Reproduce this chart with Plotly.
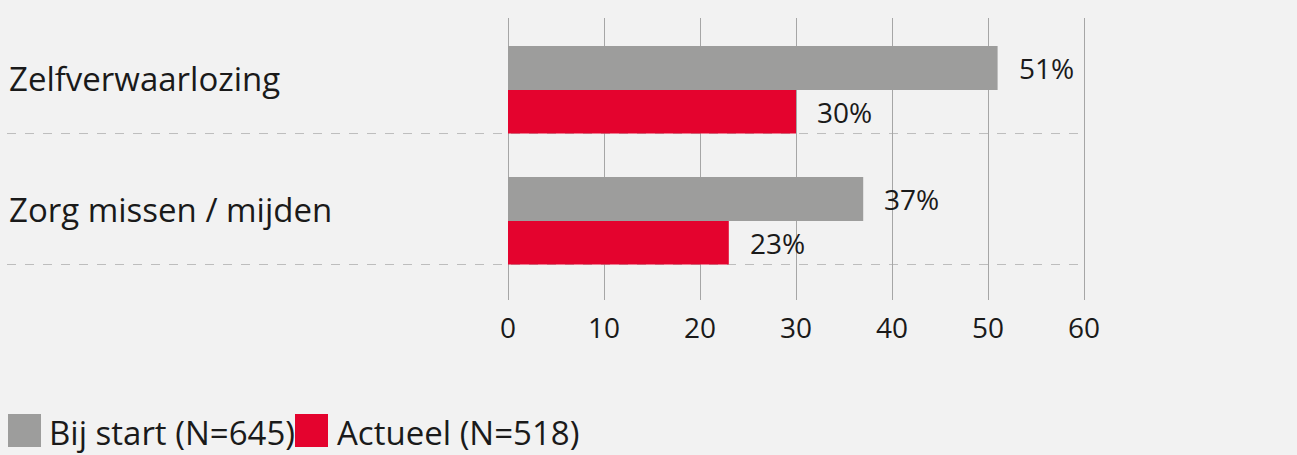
import plotly.graph_objects as go

# ---- data ----
categories = ["Zelfverwaarlozing", "Zorg missen / mijden"]
series_names = ["Bij start (N=645)", "Actueel (N=518)"]
bij_start = [51, 37]
actueel = [30, 23]
x_ticks = [0, 10, 20, 30, 40, 50, 60]

# ---- style ----
BG = "#f2f2f2"
GRAY = "#9d9d9c"
RED = "#e4032e"
TXT = "#1a1a1a"
FONT = "Open Sans"

W, H = 1297, 455
PX_PER_UNIT = 9.6
ML, MR, MT, MB = 7, 1297 - 1090, 18, 155
PW, PH = W - ML - MR, H - MT - MB

def px_x(p):
    return (p - ML) / PW

def px_y(p):
    return 1 - (p - MT) / PH

fig = go.Figure()
fig.add_trace(go.Bar(
    y=categories, x=bij_start, orientation="h", name=series_names[0],
    marker=dict(color=GRAY, line=dict(width=0)),
    offset=-0.168, width=0.336, showlegend=False,
))
fig.add_trace(go.Bar(
    y=categories, x=actueel, orientation="h", name=series_names[1],
    marker=dict(color=RED, line=dict(width=0)),
    offset=0.168, width=0.332, showlegend=False,
))

x_left = -(508 - ML) / PX_PER_UNIT
x_right = x_ticks[-1] + (ML + PW - 1084) / PX_PER_UNIT

# dashed separators at the category boundaries
for i in range(len(categories)):
    fig.add_shape(type="line", xref="x", yref="y", x0=x_left, x1=x_ticks[-1],
                  y0=i + 0.5, y1=i + 0.5, layer="below",
                  line=dict(color="#bdbdbd", width=1, dash="9px,9px"))

# value labels
for cat, v in zip(categories, bij_start):
    fig.add_annotation(x=v, y=cat, xref="x", yref="y", text=f"{v}%",
                       showarrow=False, xanchor="left", yanchor="middle",
                       xshift=19, yshift=0,
                       font=dict(family=FONT, size=28, color=TXT))
for cat, v in zip(categories, actueel):
    fig.add_annotation(x=v, y=cat, xref="x", yref="y", text=f"{v}%",
                       showarrow=False, xanchor="left", yanchor="middle",
                       xshift=19, yshift=-44,
                       font=dict(family=FONT, size=28, color=TXT))

# category labels (left aligned)
for cat in categories:
    fig.add_annotation(x=0, y=cat, xref="paper", yref="y", text=cat,
                       showarrow=False, xanchor="left", yanchor="middle",
                       xshift=0, yshift=-10,
                       font=dict(family=FONT, size=33, color=TXT))

# manual legend
legend_items = [
    (series_names[0], GRAY, 8, 47),
    (series_names[1], RED, 295, 335),
]
for name, col, sx, tx in legend_items:
    fig.add_shape(type="rect", xref="paper", yref="paper",
                  x0=px_x(sx), x1=px_x(sx + 33), y0=px_y(447), y1=px_y(414),
                  fillcolor=col, line=dict(width=0))
    fig.add_annotation(x=px_x(tx), y=px_y(432), xref="paper", yref="paper",
                       text=name, showarrow=False, xanchor="left", yanchor="middle",
                       font=dict(family=FONT, size=33, color=TXT))

fig.update_layout(
    width=W, height=H,
    margin=dict(l=ML, r=MR, t=MT, b=MB),
    paper_bgcolor=BG, plot_bgcolor=BG,
    barmode="overlay",
    showlegend=False,
    xaxis=dict(
        range=[x_left, x_right], tickvals=x_ticks, ticktext=[str(t) for t in x_ticks],
        showgrid=True, gridcolor="#a6a6a6", gridwidth=1,
        zeroline=False, showline=False, ticks="",
        ticklabelstandoff=9,
        tickfont=dict(family=FONT, size=28, color=TXT),
    ),
    yaxis=dict(
        type="category", categoryorder="array", categoryarray=categories,
        range=[1.771, -0.382],
        showgrid=False, zeroline=False, showline=False, ticks="",
        showticklabels=False,
    ),
)

fig.write_html("out.html", config={"displayModeBar": False},
               post_script="document.body.style.margin='0';document.body.style.background='%s';" % BG)
